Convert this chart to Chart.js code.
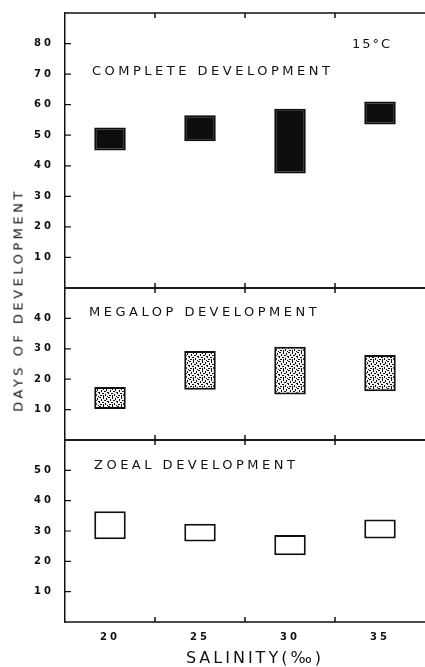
<!DOCTYPE html>
<html>
<head>
<meta charset="utf-8">
<script src="https://cdn.jsdelivr.net/npm/chart.js@4.4.1/dist/chart.umd.min.js"></script>
<style>
  body { margin: 0; background: #fff; }
  #wrap { position: relative; width: 425px; height: 667px; overflow: hidden; font-family: "DejaVu Sans", sans-serif; color: #111; }
  .pane { position: absolute; left: 0; width: 425px; }
  .lbl { position: absolute; white-space: nowrap; line-height: 1; font-size: 13px; letter-spacing: 3.5px; }
</style>
</head>
<body>
<div id="wrap">
  <div class="pane" style="top:0px;height:290px"><canvas id="c1"></canvas></div>
  <div class="pane" style="top:280px;height:170px"><canvas id="c2"></canvas></div>
  <div class="pane" style="top:430px;height:237px"><canvas id="c3"></canvas></div>

  <div class="lbl" style="left:92px;top:64px">COMPLETE DEVELOPMENT</div>
  <div class="lbl" style="left:352px;top:37px;letter-spacing:2px">15°C</div>
  <div class="lbl" style="left:89px;top:305px">MEGALOP DEVELOPMENT</div>
  <div class="lbl" style="left:94px;top:458px">ZOEAL DEVELOPMENT</div>
  <div class="lbl" style="left:255px;top:650px;font-size:16px;letter-spacing:3px;transform:translateX(-50%)">SALINITY(‰)</div>
  <div class="lbl" style="left:18px;top:300px;transform:translate(-50%,-50%) rotate(-90deg)">DAYS OF DEVELOPMENT</div>
</div>
<script>
var salinity = ['20', '25', '30', '35'];

// floating bars: [low, high] days
var completeDays = [[45, 52.5], [48, 56.5], [37.5, 58.7], [53.5, 61]];
var megalopDays = [[10.2, 17.4], [16.5, 29.3], [15, 30.7], [16, 28]];
var zoealDays = [[27.3, 36.5], [26.5, 32.4], [22, 28.7], [27.5, 33.8]];

var completeMax = 90, megalopMax = 50, zoealMax = 60;

// stipple fill for the megalop bars
function stipple() {
  var t = document.createElement('canvas');
  t.width = 9; t.height = 9;
  var g = t.getContext('2d');
  g.fillStyle = '#f2f2f2';
  g.fillRect(0, 0, 9, 9);
  g.fillStyle = '#111';
  var dots = [[0,0,2,1],[4,0,1,2],[7,1,1,2],[2,2,1,2],[5,3,2,1],[0,4,1,2],[8,4,1,1],[3,5,2,1],[6,6,1,2],[1,7,2,1],[4,7,1,2],[8,8,1,1]];
  dots.forEach(function(d) { g.fillRect(d[0], d[1], d[2], d[3]); });
  return g.createPattern(t, 'repeat');
}

// panel frame, category separator ticks and inward y ticks
var framePlugin = {
  id: 'frame',
  beforeDraw: function(chart) {
    chart.ctx.letterSpacing = '3px';
  },
  afterDraw: function(chart) {
    var ctx = chart.ctx, a = chart.chartArea, x = chart.scales.x, y = chart.scales.y;
    ctx.save();
    ctx.strokeStyle = '#111';
    ctx.lineWidth = 1.5;
    ctx.beginPath();
    ctx.moveTo(a.left, a.top); ctx.lineTo(a.right, a.top);
    ctx.moveTo(a.left, a.bottom); ctx.lineTo(a.right, a.bottom);
    for (var i = 0; i < salinity.length - 1; i++) {
      var px = (x.getPixelForValue(i) + x.getPixelForValue(i + 1)) / 2;
      ctx.moveTo(px, a.top); ctx.lineTo(px, a.top + 5);
      ctx.moveTo(px, a.bottom); ctx.lineTo(px, a.bottom - 5);
    }
    ctx.stroke();
    ctx.lineWidth = 1.2;
    ctx.beginPath();
    y.ticks.forEach(function(t) {
      var py = y.getPixelForValue(t.value);
      ctx.moveTo(a.left, py); ctx.lineTo(a.left + 6, py);
    });
    ctx.stroke();
    ctx.restore();
  }
};

function panel(id, days, max, fill, border, padTop, padBottom, showX) {
  return new Chart(document.getElementById(id), {
    type: 'bar',
    data: {
      labels: salinity,
      datasets: [{
        data: days,
        backgroundColor: fill,
        borderColor: border,
        borderWidth: 2,
        borderSkipped: false,
        categoryPercentage: 1,
        barPercentage: 0.35
      }]
    },
    options: {
      responsive: true,
      maintainAspectRatio: false,
      animation: false,
      events: [],
      layout: { padding: { top: padTop, bottom: padBottom, left: 0, right: 0 } },
      plugins: { legend: { display: false }, tooltip: { enabled: false } },
      scales: {
        x: {
          display: showX,
          grid: { display: false },
          border: { display: false },
          ticks: { color: '#111', padding: 1, font: { family: 'DejaVu Sans', size: 10, weight: 'bold' } },
          afterFit: function(s) {
            s.height = showX ? 45 : 0;
            s.paddingLeft = 0; s.paddingRight = 0;
          }
        },
        y: {
          min: 0,
          max: max,
          afterBuildTicks: function(s) {
            s.ticks = s.ticks.filter(function(t) { return t.value > 0 && t.value < max; });
          },
          afterFit: function(s) {
            s.width = 65;
            s.paddingTop = 0; s.paddingBottom = 0;
          },
          ticks: { stepSize: 10, color: '#111', padding: 3, font: { family: 'DejaVu Sans', size: 10, weight: 'bold' } },
          grid: { display: false },
          border: { display: true, color: '#111', width: 1.5 }
        }
      }
    },
    plugins: [framePlugin]
  });
}

panel('c1', completeDays, completeMax, '#0d0d0d', '#0d0d0d', 13, 2, false);
panel('c2', megalopDays, megalopMax, stipple(), '#111', 8, 10, false);
panel('c3', zoealDays, zoealMax, '#ffffff', '#111', 10, 0, true);
</script>
</body>
</html>
